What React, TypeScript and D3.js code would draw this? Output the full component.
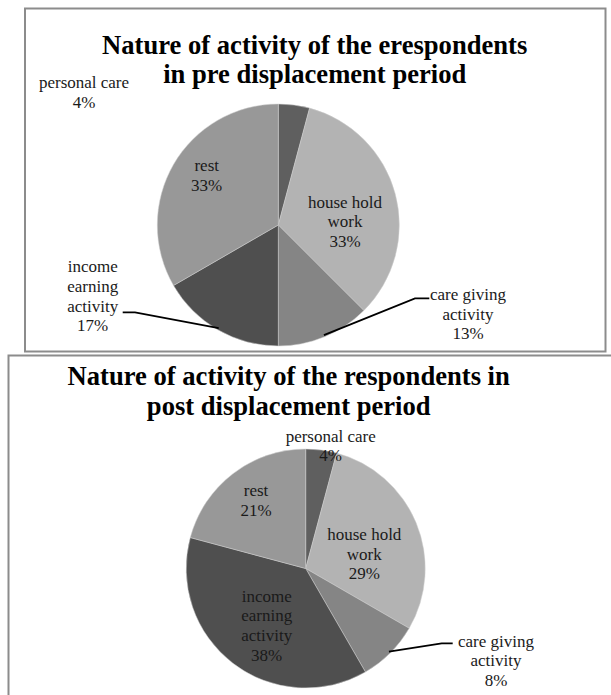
import React from "react";
import * as d3 from "d3";

// ---- data ----
const categories = [
  "personal care",
  "house hold work",
  "care giving activity",
  "income earning activity",
  "rest",
];
const categoryLines = [
  ["personal care"],
  ["house hold", "work"],
  ["care giving", "activity"],
  ["income", "earning", "activity"],
  ["rest"],
];
const preValues = [1, 8, 3, 4, 8];
const postValues = [1, 7, 2, 9, 5];
const sliceColors = ["#5f5f5f", "#b3b3b3", "#858585", "#4f4f4f", "#989898"];
const preTitle = ["Nature of activity of the erespondents", "in pre displacement period"];
const postTitle = ["Nature of activity of the respondents in", "post displacement period"];

// ---- layout ----
const W = 611;
const H = 695;
const FONT = "'Liberation Serif', 'Times New Roman', serif";
const LINE_H = 19.7;

type LabelPos = { x: number; y: number };
type Leader = { idx: number; bend: [number, number]; end: [number, number] };

interface ChartCfg {
  title: string[];
  titleX: number;
  titleY: number;
  titleGap: number;
  values: number[];
  cx: number;
  cy: number;
  r: number;
  labels: LabelPos[];
  leaders: Leader[];
}

const charts: ChartCfg[] = [
  {
    title: preTitle,
    titleX: 314.7,
    titleY: 53.5,
    titleGap: 29,
    values: preValues,
    cx: 278.3,
    cy: 225,
    r: 121,
    labels: [
      { x: 84, y: 88 },
      { x: 345, y: 207.7 },
      { x: 468, y: 300 },
      { x: 92.7, y: 272.3 },
      { x: 206.7, y: 171 },
    ],
    leaders: [
      { idx: 2, bend: [415, 298.3], end: [429.3, 298.3] },
      { idx: 3, bend: [135, 312.3], end: [122.7, 312.3] },
    ],
  },
  {
    title: postTitle,
    titleX: 288.7,
    titleY: 385,
    titleGap: 30,
    values: postValues,
    cx: 305.7,
    cy: 568.5,
    r: 119.5,
    labels: [
      { x: 330.7, y: 441.7 },
      { x: 364.3, y: 540 },
      { x: 496, y: 646.7 },
      { x: 266.7, y: 601.7 },
      { x: 256, y: 496 },
    ],
    leaders: [{ idx: 2, bend: [441.7, 643.3], end: [452.7, 643.3] }],
  },
];

function PieChart({ cfg }: { cfg: ChartCfg }) {
  const total = d3.sum(cfg.values);
  const pie = d3
    .pie<number>()
    .sort(null)
    .value((d) => d)
    .startAngle(0)
    .endAngle(2 * Math.PI);
  const arcs = pie(cfg.values);
  const arc = d3.arc<d3.PieArcDatum<number>>().innerRadius(0).outerRadius(cfg.r);
  const pct = (v: number) => `${Math.round((v / total) * 100)}%`;

  return (
    <g>
      {cfg.title.map((t, i) => (
        <text
          key={i}
          x={cfg.titleX}
          y={cfg.titleY + i * cfg.titleGap}
          textAnchor="middle"
          fontFamily={FONT}
          fontWeight="bold"
          fontSize={26.6}
          fill="#000"
        >
          {t}
        </text>
      ))}
      <g transform={`translate(${cfg.cx},${cfg.cy})`}>
        {arcs.map((a, i) => (
          <path
            key={i}
            d={arc(a) || ""}
            fill={sliceColors[i]}
            stroke="#cfcfcf"
            strokeWidth={0.5}
          />
        ))}
      </g>
      {cfg.leaders.map((l, k) => {
        const a = arcs[l.idx];
        const mid = (a.startAngle + a.endAngle) / 2;
        const rr = cfg.r * 0.985;
        const px = cfg.cx + rr * Math.sin(mid);
        const py = cfg.cy - rr * Math.cos(mid);
        const path = d3.path();
        path.moveTo(px, py);
        path.lineTo(l.bend[0], l.bend[1]);
        path.lineTo(l.end[0], l.end[1]);
        return (
          <path key={k} d={path.toString()} fill="none" stroke="#000" strokeWidth={1.8} />
        );
      })}
      {cfg.labels.map((p, i) => {
        const lines = [...categoryLines[i], pct(cfg.values[i])];
        return (
          <text
            key={i}
            textAnchor="middle"
            fontFamily={FONT}
            fontSize={17}
            fill="#1a1a1a"
          >
            {lines.map((ln, j) => (
              <tspan key={j} x={p.x} y={p.y + j * LINE_H}>
                {ln}
              </tspan>
            ))}
          </text>
        );
      })}
    </g>
  );
}

export default function App() {
  return (
    <svg
      width={W}
      height={H}
      viewBox={`0 0 ${W} ${H}`}
      style={{ position: "absolute", left: 0, top: 0, background: "#fff" }}
    >
      <rect x={0} y={0} width={W} height={H} fill="#fff" />
      <rect x={25} y={8.5} width={580.5} height={343} fill="none" stroke="#8c8c8c" strokeWidth={2} />
      <rect x={8.5} y={355.5} width={640} height={400} fill="none" stroke="#8c8c8c" strokeWidth={2} />
      {charts.map((c, i) => (
        <PieChart key={i} cfg={c} />
      ))}
    </svg>
  );
}
